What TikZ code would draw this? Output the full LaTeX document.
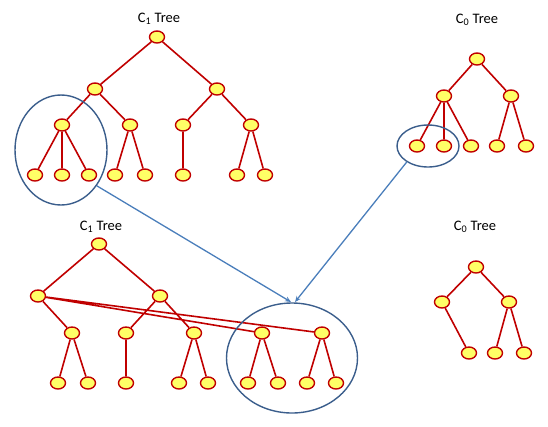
\documentclass[tikz,border=0pt]{standalone}
\usepackage{fontspec}
\setmainfont{Carlito}
\usetikzlibrary{shapes.geometric,arrows.meta}
\pgfdeclarelayer{back}
\pgfsetlayers{back,main}
\definecolor{nodered}{HTML}{C00000}
\definecolor{nodeyellow}{HTML}{FFFF66}
\definecolor{ringblue}{HTML}{3B5E8C}
\definecolor{arrowblue}{HTML}{4A7EBB}
\tikzset{
  tn/.style={ellipse,draw=nodered,fill=nodeyellow,line width=1.4pt,minimum width=15pt,minimum height=12pt,inner sep=0pt},
  edge/.style={draw=nodered,line width=1.6pt},
  ring/.style={ellipse,draw=ringblue,line width=1.4pt,inner sep=0pt},
  link/.style={draw=arrowblue,line width=1.3pt,-{Stealth[length=6pt,width=5pt]}},
  title/.style={font=\fontsize{14.5}{16}\selectfont,inner sep=0pt}
}
\begin{document}
\begin{tikzpicture}[x=1pt,y=-1pt]
\useasboundingbox (0,0) rectangle (548,426);
% rings
\node[ring,minimum width=92pt,minimum height=110pt] (ringA) at (61,150) {};
\node[ring,minimum width=62pt,minimum height=42pt] (ringB) at (428,146) {};
\node[ring,minimum width=131pt,minimum height=110pt] (ringC) at (292,358) {};
\coordinate (tipA) at (291,302);
\coordinate (tipB) at (295,302);
\draw[link] (ringA.-45) -- (tipA);
\draw[link] (ringB.-143) -- (tipB);

% ---- top-left C1 tree
\node[title] (t1) at (159,19) {C\textsubscript{1} Tree};
\node[tn] (a) at (157,37) {};
\node[tn] (a1) at (95,89) {};
\node[tn] (a2) at (217,89) {};
\node[tn] (a11) at (62,125) {};
\node[tn] (a12) at (130,125) {};
\node[tn] (a21) at (183,125) {};
\node[tn] (a22) at (251,125) {};
\node[tn] (l1) at (35,175) {};
\node[tn] (l2) at (62,175) {};
\node[tn] (l3) at (89,175) {};
\node[tn] (l4) at (115,175) {};
\node[tn] (l5) at (145,175) {};
\node[tn] (l6) at (183,175) {};
\node[tn] (l7) at (237,175) {};
\node[tn] (l8) at (265,175) {};
\begin{pgfonlayer}{back}
\path[edge] (a)--(a1) (a)--(a2) (a1)--(a11) (a1)--(a12) (a2)--(a21) (a2)--(a22)
  (a11)--(l1) (a11)--(l2) (a11)--(l3) (a12)--(l4) (a12)--(l5) (a21)--(l6) (a22)--(l7) (a22)--(l8);
\end{pgfonlayer}

% ---- top-right C0 tree
\node[title] (t2) at (477,20) {C\textsubscript{0} Tree};
\node[tn] (b) at (477,59) {};
\node[tn] (b1) at (444,96) {};
\node[tn] (b2) at (511,96) {};
\node[tn] (m1) at (417,146) {};
\node[tn] (m2) at (444,146) {};
\node[tn] (m3) at (471,146) {};
\node[tn] (m4) at (497,146) {};
\node[tn] (m5) at (526,146) {};
\begin{pgfonlayer}{back}
\path[edge] (b)--(b1) (b)--(b2) (b1)--(m1) (b1)--(m2) (b1)--(m3) (b2)--(m4) (b2)--(m5);
\end{pgfonlayer}

% ---- bottom-left C1 tree
\node[title] (t3) at (101,227) {C\textsubscript{1} Tree};
\node[tn] (c) at (99,244) {};
\node[tn] (c1) at (38,296) {};
\node[tn] (c2) at (160,296) {};
\node[tn] (c11) at (72,333) {};
\node[tn] (c21) at (126,333) {};
\node[tn] (c22) at (194,333) {};
\node[tn] (c12) at (262,333) {};
\node[tn] (c13) at (322,333) {};
\node[tn] (n1) at (58,383) {};
\node[tn] (n2) at (88,383) {};
\node[tn] (n3) at (126,383) {};
\node[tn] (n4) at (179,383) {};
\node[tn] (n5) at (208,383) {};
\node[tn] (n6) at (248,383) {};
\node[tn] (n7) at (278,383) {};
\node[tn] (n8) at (307,383) {};
\node[tn] (n9) at (336,383) {};
\begin{pgfonlayer}{back}
\path[edge] (c)--(c1) (c)--(c2) (c1)--(c11) (c1)--(c12) (c1)--(c13) (c2)--(c21) (c2)--(c22)
  (c11)--(n1) (c11)--(n2) (c21)--(n3) (c22)--(n4) (c22)--(n5)
  (c12)--(n6) (c12)--(n7) (c13)--(n8) (c13)--(n9);
\end{pgfonlayer}

% ---- bottom-right C0 tree
\node[title] (t4) at (475,227) {C\textsubscript{0} Tree};
\node[tn] (d) at (476,267) {};
\node[tn] (d1) at (442,302) {};
\node[tn] (d2) at (509,302) {};
\node[tn] (p1) at (469,353) {};
\node[tn] (p2) at (495,353) {};
\node[tn] (p3) at (524,353) {};
\begin{pgfonlayer}{back}
\path[edge] (d)--(d1) (d)--(d2) (d1)--(p1) (d2)--(p2) (d2)--(p3);
\end{pgfonlayer}
\end{tikzpicture}
\end{document}
